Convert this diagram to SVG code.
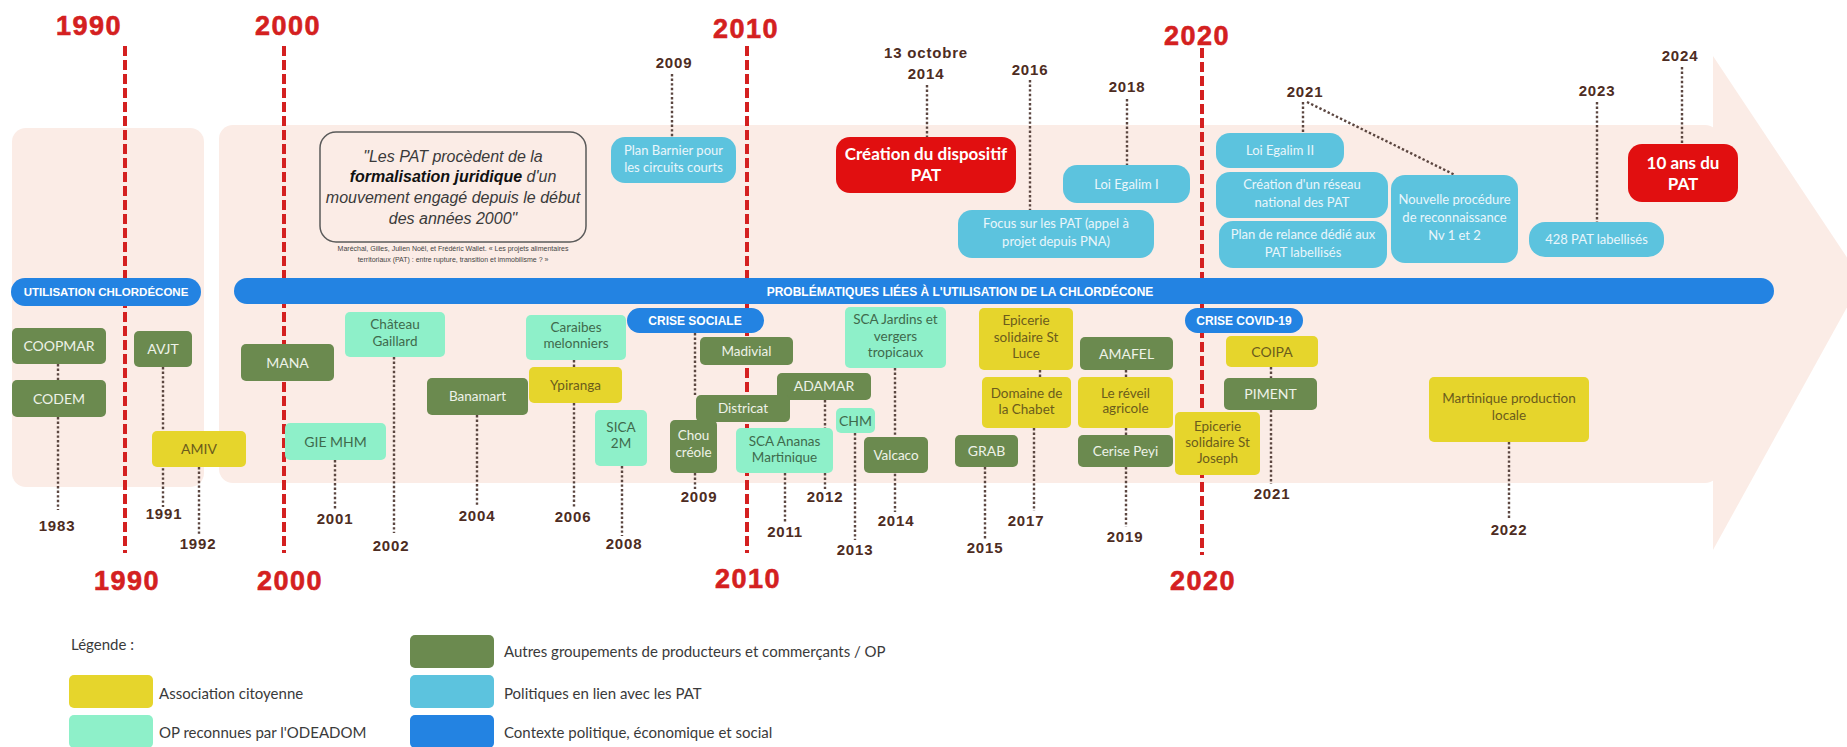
<svg xmlns="http://www.w3.org/2000/svg" width="1847" height="747" viewBox="0 0 1847 747">
<style>
.panel{fill:#fbece6}
.era{stroke:#d42020;stroke-width:4;stroke-dasharray:10 4;fill:none}
.eraT{font-family:"Liberation Sans",Arial,sans-serif;font-weight:bold;font-size:27px;fill:#d42020;text-anchor:middle;letter-spacing:1.5px;stroke:#d42020;stroke-width:0.6}
.bar{fill:#2383e2}
.barT{font-family:"Liberation Sans",Arial,sans-serif;font-weight:bold;font-size:12px;fill:#fff;text-anchor:middle}
.dot{stroke:#5b4640;stroke-width:2.4;stroke-dasharray:2.4 2.2;fill:none}
.yr{font-family:"Liberation Sans",Arial,sans-serif;font-weight:bold;font-size:15px;fill:#4d2c22;text-anchor:middle;letter-spacing:0.8px}
.olive{fill:#6b8a4f}
.yel{fill:#e6d52c}
.mint{fill:#8ef0c9}
.pol{fill:#5cc3de}
.red{fill:#e10f10}
.t{font-family:Lato,"Liberation Sans",sans-serif;font-size:13.5px;text-anchor:middle}
.cap{font-size:14px}
.to{fill:#eef2e8}
.ty{fill:#6b5c1c}
.tm{fill:#3f6a4c}
.tp{fill:#eaf6fb;font-size:13px}
.tr{fill:#fff;font-weight:bold;font-size:17px}
.q{font-family:"Liberation Sans",Arial,sans-serif;font-style:italic;font-size:16px;fill:#3a3a3a;text-anchor:middle}
.qb{font-weight:bold;fill:#111}
.cit{font-family:"Liberation Sans",Arial,sans-serif;font-size:7px;fill:#444;text-anchor:middle}
.lg{font-family:Lato,"Liberation Sans",sans-serif;font-size:15px;fill:#3a3a3a}
</style>

<g id="background">
<rect class="panel" x="12" y="128" width="192" height="359" rx="14"/>
<rect class="panel" x="219" y="125" width="1500" height="358" rx="14"/>
<polygon class="panel" points="1713,56 1862,280 1713,550"/>
</g>

<g id="eras">
<line class="era" x1="125" y1="46" x2="125" y2="553"/>
<line class="era" x1="284" y1="46" x2="284" y2="553"/>
<line class="era" x1="747" y1="46" x2="747" y2="553"/>
<line class="era" x1="1202" y1="48" x2="1202" y2="555"/>
<text class="eraT" x="89" y="35">1990</text>
<text class="eraT" x="288" y="35">2000</text>
<text class="eraT" x="746" y="38">2010</text>
<text class="eraT" x="1197" y="45">2020</text>
<text class="eraT" x="127" y="590">1990</text>
<text class="eraT" x="290" y="590">2000</text>
<text class="eraT" x="748" y="588">2010</text>
<text class="eraT" x="1203" y="590">2020</text>
</g>

<g id="context-bars">
<g id="n-utilisation"><rect class="bar" x="11" y="278" width="190" height="28" rx="14"/><text class="barT" x="106" y="296" style="font-size:11.5px">UTILISATION CHLORDÉCONE</text></g>
<g id="n-problematiques"><rect class="bar" x="234" y="278" width="1540" height="26" rx="13"/><text class="barT" x="960" y="295.5">PROBLÉMATIQUES LIÉES À L'UTILISATION DE LA CHLORDÉCONE</text></g>
<g id="n-crise-sociale"><rect class="bar" x="627" y="308" width="137" height="25" rx="12.5"/><text class="barT" x="695" y="325">CRISE SOCIALE</text></g>
<g id="n-crise-covid"><rect class="bar" x="1185" y="308" width="118" height="25" rx="12.5"/><text class="barT" x="1244" y="325">CRISE COVID-19</text></g>
</g>

<g id="connectors">
<line class="dot" x1="58" y1="364" x2="58" y2="380"/>
<line class="dot" x1="58" y1="417" x2="58" y2="510"/>
<line class="dot" x1="163" y1="367" x2="163" y2="507"/>
<line class="dot" x1="199" y1="467" x2="199" y2="536"/>
<line class="dot" x1="335" y1="460" x2="335" y2="510"/>
<line class="dot" x1="394" y1="357" x2="394" y2="533"/>
<line class="dot" x1="477" y1="415" x2="477" y2="507"/>
<line class="dot" x1="574" y1="360" x2="574" y2="367"/>
<line class="dot" x1="574" y1="403" x2="574" y2="507"/>
<line class="dot" x1="622" y1="466" x2="622" y2="536"/>
<line class="dot" x1="695" y1="333" x2="695" y2="395"/>
<line class="dot" x1="695" y1="473" x2="695" y2="489"/>
<line class="dot" x1="785" y1="473" x2="785" y2="523"/>
<line class="dot" x1="825" y1="400" x2="825" y2="428"/>
<line class="dot" x1="825" y1="473" x2="825" y2="489"/>
<line class="dot" x1="855" y1="433" x2="855" y2="540"/>
<line class="dot" x1="895" y1="368" x2="895" y2="512"/>
<line class="dot" x1="985" y1="467" x2="985" y2="540"/>
<line class="dot" x1="1040" y1="370" x2="1040" y2="377"/>
<line class="dot" x1="1034" y1="428" x2="1034" y2="511"/>
<line class="dot" x1="1126" y1="370" x2="1126" y2="377"/>
<line class="dot" x1="1126" y1="428" x2="1126" y2="435"/>
<line class="dot" x1="1126" y1="467" x2="1126" y2="527"/>
<line class="dot" x1="1271" y1="367" x2="1271" y2="378"/>
<line class="dot" x1="1271" y1="410" x2="1271" y2="484"/>
<line class="dot" x1="1509" y1="442" x2="1509" y2="520"/>
<line class="dot" x1="672" y1="74" x2="672" y2="137"/>
<line class="dot" x1="927" y1="85" x2="927" y2="137"/>
<line class="dot" x1="1030" y1="80" x2="1030" y2="210"/>
<line class="dot" x1="1127" y1="99" x2="1127" y2="165"/>
<line class="dot" x1="1303" y1="102" x2="1303" y2="133"/>
<line class="dot" x1="1307" y1="102" x2="1455" y2="175"/>
<line class="dot" x1="1597" y1="102" x2="1597" y2="222"/>
<line class="dot" x1="1682" y1="67" x2="1682" y2="144"/>
</g>

<g id="years">
<text class="yr" x="57" y="531">1983</text>
<text class="yr" x="164" y="519">1991</text>
<text class="yr" x="198" y="549">1992</text>
<text class="yr" x="335" y="524">2001</text>
<text class="yr" x="391" y="551">2002</text>
<text class="yr" x="477" y="521">2004</text>
<text class="yr" x="573" y="522">2006</text>
<text class="yr" x="624" y="549">2008</text>
<text class="yr" x="699" y="502">2009</text>
<text class="yr" x="785" y="537">2011</text>
<text class="yr" x="825" y="502">2012</text>
<text class="yr" x="855" y="555">2013</text>
<text class="yr" x="896" y="526">2014</text>
<text class="yr" x="985" y="553">2015</text>
<text class="yr" x="1026" y="526">2017</text>
<text class="yr" x="1125" y="542">2019</text>
<text class="yr" x="1272" y="499">2021</text>
<text class="yr" x="1509" y="535">2022</text>
<text class="yr" x="674" y="68">2009</text>
<text class="yr" x="926" y="58">13 octobre</text>
<text class="yr" x="926" y="79">2014</text>
<text class="yr" x="1030" y="75">2016</text>
<text class="yr" x="1127" y="92">2018</text>
<text class="yr" x="1305" y="97">2021</text>
<text class="yr" x="1597" y="96">2023</text>
<text class="yr" x="1680" y="61">2024</text>
</g>

<g id="nodes">
<g id="n-coopmar"><rect class="olive" x="12" y="328" width="94" height="36" rx="5"/><text class="t cap to" x="59" y="351">COOPMAR</text></g>
<g id="n-codem"><rect class="olive" x="12" y="380" width="94" height="37" rx="5"/><text class="t cap to" x="59" y="403.5">CODEM</text></g>
<g id="n-avjt"><rect class="olive" x="134" y="331" width="58" height="36" rx="5"/><text class="t cap to" x="163" y="354">AVJT</text></g>
<g id="n-amiv"><rect class="yel" x="152" y="431" width="94" height="36" rx="5"/><text class="t cap ty" x="199" y="454">AMIV</text></g>
<g id="n-mana"><rect class="olive" x="241" y="344" width="93" height="37" rx="5"/><text class="t cap to" x="287.5" y="367.5">MANA</text></g>
<g id="n-giemhm"><rect class="mint" x="285" y="423" width="101" height="37" rx="5"/><text class="t cap tm" x="335.5" y="446.5">GIE MHM</text></g>
<g id="n-chateau"><rect class="mint" x="345" y="312" width="100" height="45" rx="5"/><text class="t tm" x="395" y="329">Château</text><text class="t tm" x="395" y="346">Gaillard</text></g>
<g id="n-banamart"><rect class="olive" x="427" y="378" width="101" height="37" rx="5"/><text class="t to" x="477.5" y="401">Banamart</text></g>
<g id="n-caraibes"><rect class="mint" x="526" y="315" width="100" height="45" rx="5"/><text class="t tm" x="576" y="332">Caraibes</text><text class="t tm" x="576" y="348">melonniers</text></g>
<g id="n-ypiranga"><rect class="yel" x="529" y="367" width="93" height="36" rx="5"/><text class="t ty" x="575.5" y="390">Ypiranga</text></g>
<g id="n-sica2m"><rect class="mint" x="595" y="410" width="52" height="56" rx="5"/><text class="t tm" x="621" y="432">SICA</text><text class="t tm" x="621" y="448">2M</text></g>
<g id="n-madivial"><rect class="olive" x="700" y="337" width="93" height="28" rx="5"/><text class="t to" x="746.5" y="355.5">Madivial</text></g>
<g id="n-adamar"><rect class="olive" x="777" y="373" width="94" height="27" rx="5"/><text class="t cap to" x="824" y="391">ADAMAR</text></g>
<g id="n-districat"><rect class="olive" x="696" y="395" width="94" height="27" rx="5"/><text class="t to" x="743" y="413">Districat</text></g>
<g id="n-chou"><rect class="olive" x="670" y="420" width="47" height="53" rx="5"/><text class="t to" x="693.5" y="440">Chou</text><text class="t to" x="693.5" y="457">créole</text></g>
<g id="n-ananas"><rect class="mint" x="736" y="428" width="97" height="45" rx="5"/><text class="t tm" x="784.5" y="446">SCA Ananas</text><text class="t tm" x="784.5" y="462">Martinique</text></g>
<g id="n-chm"><rect class="mint" x="836" y="408" width="39" height="25" rx="5"/><text class="t cap tm" x="855.5" y="425.5">CHM</text></g>
<g id="n-jardins"><rect class="mint" x="845" y="307" width="101" height="61" rx="5"/><text class="t tm" x="895.5" y="324">SCA Jardins et</text><text class="t tm" x="895.5" y="341">vergers</text><text class="t tm" x="895.5" y="357">tropicaux</text></g>
<g id="n-valcaco"><rect class="olive" x="864" y="437" width="64" height="36" rx="5"/><text class="t to" x="896" y="460">Valcaco</text></g>
<g id="n-stluce"><rect class="yel" x="979" y="308" width="94" height="62" rx="5"/><text class="t ty" x="1026" y="325">Epicerie</text><text class="t ty" x="1026" y="342">solidaire St</text><text class="t ty" x="1026" y="358">Luce</text></g>
<g id="n-chabet"><rect class="yel" x="982" y="377" width="89" height="51" rx="5"/><text class="t ty" x="1026.5" y="398">Domaine de</text><text class="t ty" x="1026.5" y="414">la Chabet</text></g>
<g id="n-grab"><rect class="olive" x="955" y="435" width="63" height="32" rx="5"/><text class="t cap to" x="986.5" y="456">GRAB</text></g>
<g id="n-amafel"><rect class="olive" x="1080" y="337" width="93" height="33" rx="5"/><text class="t cap to" x="1126.5" y="358.5">AMAFEL</text></g>
<g id="n-reveil"><rect class="yel" x="1078" y="377" width="95" height="51" rx="5"/><text class="t ty" x="1125.5" y="398">Le réveil</text><text class="t ty" x="1125.5" y="413">agricole</text></g>
<g id="n-cerise"><rect class="olive" x="1078" y="435" width="95" height="32" rx="5"/><text class="t to" x="1125.5" y="456">Cerise Peyi</text></g>
<g id="n-coipa"><rect class="yel" x="1226" y="336" width="92" height="31" rx="5"/><text class="t cap ty" x="1272" y="356.5">COIPA</text></g>
<g id="n-piment"><rect class="olive" x="1224" y="378" width="93" height="32" rx="5"/><text class="t cap to" x="1270.5" y="399">PIMENT</text></g>
<g id="n-stjoseph"><rect class="yel" x="1175" y="412" width="85" height="63" rx="5"/><text class="t ty" x="1217.5" y="431">Epicerie</text><text class="t ty" x="1217.5" y="447">solidaire St</text><text class="t ty" x="1217.5" y="463">Joseph</text></g>
<g id="n-mpl"><rect class="yel" x="1429" y="377" width="160" height="65" rx="5"/><text class="t ty" x="1509" y="403">Martinique production</text><text class="t ty" x="1509" y="420">locale</text></g>

<g id="n-quote"><rect x="320" y="132" width="266" height="110" rx="16" fill="none" stroke="#5a5a5a" stroke-width="1.5"/>
<text class="q" x="453" y="162">"Les PAT procèdent de la</text>
<text class="q" x="453" y="182"><tspan class="qb">formalisation juridique</tspan> d'un</text>
<text class="q" x="453" y="203">mouvement engagé depuis le début</text>
<text class="q" x="453" y="224">des années 2000"</text>
<text class="cit" x="453" y="251">Maréchal, Gilles, Julien Noël, et Frédéric Wallet. « Les projets alimentaires</text>
<text class="cit" x="453" y="262">territoriaux (PAT) : entre rupture, transition et immobilisme ? »</text>
</g>
<g id="n-barnier"><rect class="pol" x="611" y="137" width="125" height="46" rx="14"/><text class="t tp" x="673.5" y="154.5">Plan Barnier pour</text><text class="t tp" x="673.5" y="171.5">les circuits courts</text></g>
<g id="n-creation"><rect class="red" x="836" y="137" width="180" height="56" rx="14"/><text class="t tr" x="926" y="160">Création du dispositif</text><text class="t tr" x="926" y="181">PAT</text></g>
<g id="n-focus"><rect class="pol" x="958" y="210" width="196" height="48" rx="14"/><text class="t tp" x="1056" y="227.5">Focus sur les PAT (appel à</text><text class="t tp" x="1056" y="245.5">projet depuis PNA)</text></g>
<g id="n-egalim1"><rect class="pol" x="1063" y="165" width="127" height="38" rx="14"/><text class="t tp" x="1126.5" y="188.5">Loi Egalim I</text></g>
<g id="n-egalim2"><rect class="pol" x="1216" y="133" width="128" height="35" rx="14"/><text class="t tp" x="1280" y="155">Loi Egalim II</text></g>
<g id="n-reseau"><rect class="pol" x="1216" y="172" width="172" height="46" rx="14"/><text class="t tp" x="1302" y="188.5">Création d'un réseau</text><text class="t tp" x="1302" y="206.5">national des PAT</text></g>
<g id="n-relance"><rect class="pol" x="1219" y="221" width="168" height="47" rx="14"/><text class="t tp" x="1303" y="238.5">Plan de relance dédié aux</text><text class="t tp" x="1303" y="256.5">PAT labellisés</text></g>
<g id="n-procedure"><rect class="pol" x="1391" y="175" width="127" height="88" rx="14"/><text class="t tp" x="1454.5" y="203.5">Nouvelle procédure</text><text class="t tp" x="1454.5" y="221.5">de reconnaissance</text><text class="t tp" x="1454.5" y="239.5">Nv 1 et 2</text></g>
<g id="n-428"><rect class="pol" x="1529" y="222" width="135" height="35" rx="16"/><text class="t tp" x="1596.5" y="244">428 PAT labellisés</text></g>
<g id="n-10ans"><rect class="red" x="1628" y="144" width="110" height="58" rx="14"/><text class="t tr" x="1683" y="169">10 ans du</text><text class="t tr" x="1683" y="190">PAT</text></g>
</g>

<g id="legend">
<text class="lg" x="71" y="650">Légende :</text>
<rect class="yel" x="69" y="675" width="84" height="33" rx="5"/>
<text class="lg" x="159" y="699">Association citoyenne</text>
<rect class="mint" x="69" y="715" width="84" height="33" rx="5"/>
<text class="lg" x="159" y="738">OP reconnues par l'ODEADOM</text>
<rect class="olive" x="410" y="635" width="84" height="33" rx="5"/>
<text class="lg" x="504" y="657">Autres groupements de producteurs et commerçants / OP</text>
<rect class="pol" x="410" y="675" width="84" height="33" rx="5"/>
<text class="lg" x="504" y="699">Politiques en lien avec les PAT</text>
<rect class="bar" x="410" y="715" width="84" height="33" rx="5"/>
<text class="lg" x="504" y="738">Contexte politique, économique et social</text>
</g>
</svg>
